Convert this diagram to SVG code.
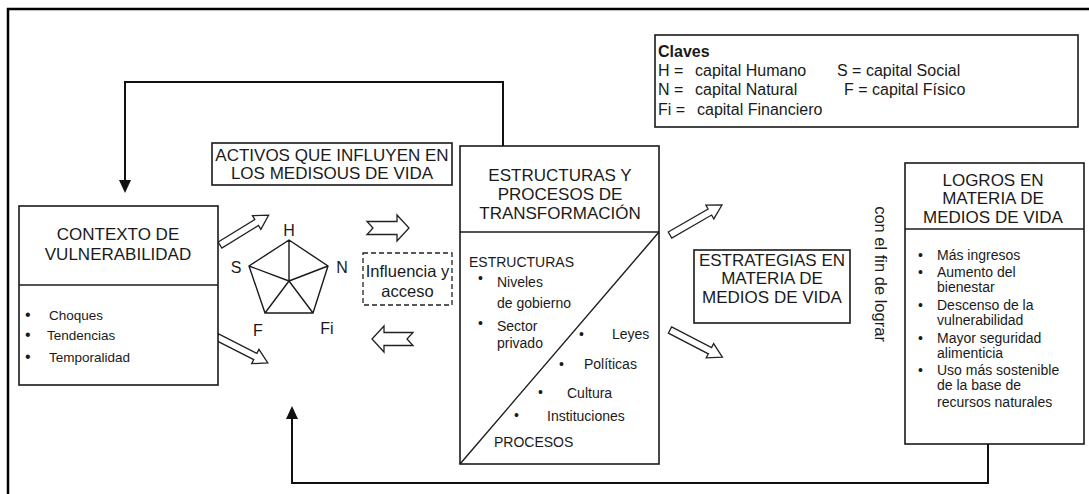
<svg xmlns="http://www.w3.org/2000/svg" width="1089" height="494" viewBox="0 0 1089 494">
<style>
text{font-family:"Liberation Sans",Arial,sans-serif;fill:#1a1a1a}
.box{fill:#fff;stroke:#1a1a1a;stroke-width:1.6}
.t17{font-size:17px}
.t16{font-size:16px}
.t14{font-size:14px}
.mid{text-anchor:middle}
.ln{fill:none;stroke:#111;stroke-width:2}
.thin{fill:none;stroke:#1a1a1a;stroke-width:1.4}
.ha{fill:#fff;stroke:#222;stroke-width:1.3;stroke-linejoin:miter}
</style>
<defs>
<path id="ah" d="M-6,-13 L6,-13 L0,0 Z" fill="#111"/>
</defs>
<rect width="1089" height="494" fill="#fff"/>
<!-- outer frame -->
<path d="M8,494 L8,9 L1089,9" fill="none" stroke="#000" stroke-width="2.5"/>

<g id="claves">
<rect class="box" x="655" y="35" width="423" height="92"/>
<text x="658" y="57" class="t16" font-weight="bold">Claves</text>
<text x="658" y="76" class="t16">H =</text>
<text x="695" y="76" class="t16">capital Humano</text>
<text x="837" y="76" class="t16">S = capital Social</text>
<text x="658" y="95" class="t16">N =</text>
<text x="695" y="95" class="t16">capital Natural</text>
<text x="844" y="95" class="t16">F = capital Físico</text>
<text x="658" y="115" class="t16">Fi =</text>
<text x="697" y="115" class="t16">capital Financiero</text>
</g>

<g id="connectors">
<path class="ln" d="M503,146 L503,82 L125,82 L125,181"/>
<use href="#ah" transform="translate(125,193)"/>
<path class="ln" d="M988,444 L988,483 L292,483 L292,417"/>
<use href="#ah" transform="translate(292,406) rotate(180)"/>
<!-- hollow arrows -->
<path class="ha" transform="translate(220,245) rotate(-31.5)" d="M0,-3.5 L43,-3.5 L43,-8 L57,0 L43,8 L43,3.5 L0,3.5 Z"/>
<path class="ha" transform="translate(217,337) rotate(27)" d="M0,-3.5 L43,-3.5 L43,-8 L57,0 L43,8 L43,3.5 L0,3.5 Z"/>
<path class="ha" transform="translate(670,235) rotate(-30)" d="M0,-3.5 L46,-3.5 L46,-8 L60,0 L46,8 L46,3.5 L0,3.5 Z"/>
<path class="ha" transform="translate(670,330) rotate(27.4)" d="M0,-3.5 L45,-3.5 L45,-8 L59,0 L45,8 L45,3.5 L0,3.5 Z"/>
<path class="ha" transform="translate(367,228)" d="M0,-6.5 L30,-6.5 L30,-13 L42,0 L30,13 L30,6.5 L0,6.5 L6,0 Z"/>
<path class="ha" transform="translate(413,339) rotate(180)" d="M0,-6.5 L29,-6.5 L29,-13 L41,0 L29,13 L29,6.5 L0,6.5 L6,0 Z"/>
</g>

<g id="contexto">
<rect class="box" x="19" y="206" width="199" height="179"/>
<line class="thin" x1="19" y1="285" x2="218" y2="285"/>
<text x="118" y="240" class="t17 mid">CONTEXTO DE</text>
<text x="118" y="260" class="t17 mid">VULNERABILIDAD</text>
<text x="25" y="320" font-size="16">•</text>
<text x="49" y="320" font-size="13.5">Choques</text>
<text x="25" y="340" font-size="16">•</text>
<text x="47" y="340" font-size="13.5">Tendencias</text>
<text x="25" y="362" font-size="16">•</text>
<text x="49" y="362" font-size="13.5">Temporalidad</text>
</g>

<g id="activos">
<rect class="box" x="212" y="143" width="240" height="42"/>
<text x="332" y="161" class="t17 mid">ACTIVOS QUE INFLUYEN EN</text>
<text x="332" y="179" class="t17 mid">LOS MEDISOUS DE VIDA</text>
</g>

<g id="pentagono">
<path class="thin" d="M289,240 L328,266 L313,313 L265,313 L249,266 Z M289,281 L289,240 M289,281 L328,266 M289,281 L313,313 M289,281 L265,313 M289,281 L249,266"/>
<text x="289" y="236" class="t16 mid">H</text>
<text x="236" y="273" class="t16 mid">S</text>
<text x="342" y="273" class="t16 mid">N</text>
<text x="258" y="336" class="t16 mid">F</text>
<text x="327" y="334" class="t16 mid">Fi</text>
</g>

<g id="influencia">
<rect x="363" y="253" width="89" height="52" fill="#fff" stroke="#222" stroke-width="1.3" stroke-dasharray="5,3"/>
<text x="407.5" y="277" font-size="16.5" class="mid">Influencia y</text>
<text x="407.5" y="297" font-size="16.5" class="mid">acceso</text>
</g>

<g id="estructuras">
<rect class="box" x="460" y="146" width="199" height="318"/>
<line class="thin" x1="460" y1="232" x2="659" y2="232"/>
<line class="thin" x1="659" y1="232" x2="460" y2="464"/>
<text x="560" y="181" class="t17 mid">ESTRUCTURAS Y</text>
<text x="560" y="200" class="t17 mid">PROCESOS DE</text>
<text x="560" y="219" class="t17 mid">TRANSFORMACIÓN</text>
<text x="469" y="267" class="t14">ESTRUCTURAS</text>
<text x="478" y="283" class="t14">•</text>
<text x="497" y="287" class="t14">Niveles</text>
<text x="497" y="308" class="t14">de gobierno</text>
<text x="478" y="328" class="t14">•</text>
<text x="497" y="331" class="t14">Sector</text>
<text x="497" y="348" class="t14">privado</text>
<text x="579" y="339" class="t14">•</text>
<text x="612" y="339" class="t14">Leyes</text>
<text x="559" y="369" class="t14">•</text>
<text x="584" y="369" class="t14">Políticas</text>
<text x="538" y="397" class="t14">•</text>
<text x="567" y="398" class="t14">Cultura</text>
<text x="514" y="420" class="t14">•</text>
<text x="547" y="421" class="t14">Instituciones</text>
<text x="494" y="447" class="t14">PROCESOS</text>
</g>

<g id="estrategias">
<rect class="box" x="694" y="250" width="156" height="73"/>
<text x="772" y="266" class="t17 mid">ESTRATEGIAS EN</text>
<text x="772" y="284" class="t17 mid">MATERIA DE</text>
<text x="772" y="303" class="t17 mid">MEDIOS DE VIDA</text>
</g>

<g id="conelfin">
<text transform="translate(874.5,274) rotate(90)" font-size="16.5" class="mid">con el fin de lograr</text>
</g>

<g id="logros">
<rect class="box" x="905" y="163" width="179" height="281"/>
<line class="thin" x1="905" y1="229" x2="1084" y2="229"/>
<text x="993" y="186" class="t17 mid">LOGROS EN</text>
<text x="993" y="204" class="t17 mid">MATERIA DE</text>
<text x="993" y="223" class="t17 mid">MEDIOS DE VIDA</text>
<text x="918" y="260" class="t14">•</text>
<text x="937" y="260" class="t14">Más ingresos</text>
<text x="918" y="277" class="t14">•</text>
<text x="937" y="277" class="t14">Aumento del</text>
<text x="937" y="292" class="t14">bienestar</text>
<text x="918" y="310" class="t14">•</text>
<text x="937" y="310" class="t14">Descenso de la</text>
<text x="937" y="325" class="t14">vulnerabilidad</text>
<text x="918" y="343" class="t14">•</text>
<text x="937" y="343" class="t14">Mayor seguridad</text>
<text x="937" y="358" class="t14">alimenticia</text>
<text x="918" y="375" class="t14">•</text>
<text x="937" y="375" class="t14">Uso más sostenible</text>
<text x="937" y="390" class="t14">de la base de</text>
<text x="937" y="407" class="t14">recursos naturales</text>
</g>
</svg>
